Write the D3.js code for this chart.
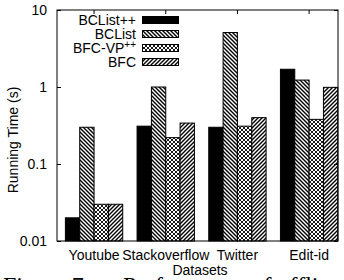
<!DOCTYPE html>
<html>
<head>
<meta charset="utf-8">
<script src="https://cdn.jsdelivr.net/npm/d3@7"></script>
<style>
  body { margin: 0; background: #fff; }
  text { font-family: "Liberation Sans", Arial, sans-serif; fill: #000; }
</style>
</head>
<body>
<div id="chart"></div>
<script>
// данные
const datasets = ['Youtube', 'Stackoverflow', 'Twitter', 'Edit-id'];
const seriesNames = ['BCList++', 'BCList', 'BFC-VP++', 'BFC'];
const bclistPP = [0.02, 0.31, 0.30, 1.7];
const bclist = [0.30, 1.0, 5.1, 1.23];
const bfcVP = [0.03, 0.22, 0.31, 0.38];
const bfc = [0.03, 0.34, 0.40, 0.99];
const yTicks = [0.01, 0.1, 1, 10];
const yTickLabels = ['0.01', '0.1', '1', '10'];

const W = 344, H = 280;
const m = { left: 57, right: 6, top: 10, bottom: 39 };
const FS = '14px';

const svg = d3.select('#chart').append('svg')
  .attr('width', W).attr('height', H);

const defs = svg.append('defs');

function hatch(id, d, sw) {
  const p = defs.append('pattern')
    .attr('id', id)
    .attr('patternUnits', 'userSpaceOnUse')
    .attr('width', 4).attr('height', 4);
  p.append('rect').attr('width', 4).attr('height', 4).attr('fill', '#fff');
  p.append('path').attr('d', d).attr('stroke', '#000')
    .attr('stroke-width', sw).attr('fill', 'none');
}
hatch('back', 'M-1,-1 L5,5 M-1,3 L1,5 M3,-1 L5,1', 1.4);
hatch('fwd', 'M-1,5 L5,-1 M-1,1 L1,-1 M3,5 L5,3', 1.4);
hatch('cross', 'M-1,-1 L5,5 M-1,3 L1,5 M3,-1 L5,1 M-1,5 L5,-1 M-1,1 L1,-1 M3,5 L5,3', 0.9);

const fills = ['#000', 'url(#back)', 'url(#cross)', 'url(#fwd)'];
const series = [bclistPP, bclist, bfcVP, bfc];

const x = d3.scaleLinear().domain([-0.51, 3.41]).range([m.left, W - m.right]);
const y = d3.scaleLog().domain([0.01, 10]).range([H - m.bottom, m.top]);
const barW = 0.2;

const plot = svg.append('g');

// столбцы
series.forEach((vals, j) => {
  plot.selectAll('.bar' + j)
    .data(vals)
    .enter().append('rect')
    .attr('x', (d, i) => x(i + (j - 2) * barW) + 0.5)
    .attr('y', d => y(d))
    .attr('width', x(barW) - x(0))
    .attr('height', d => y(0.01) - y(d))
    .attr('fill', fills[j])
    .attr('stroke', '#000')
    .attr('stroke-width', 1);
});

// рамка
plot.append('rect')
  .attr('x', x.range()[0]).attr('y', y.range()[1])
  .attr('width', x.range()[1] - x.range()[0])
  .attr('height', y.range()[0] - y.range()[1])
  .attr('fill', 'none').attr('stroke', '#000').attr('stroke-width', 1);

// оси
const yAxisL = d3.axisLeft(y).tickValues(yTicks)
  .tickFormat((d, i) => yTickLabels[i]).tickSizeInner(-4).tickSizeOuter(0).tickPadding(10);
const gy = svg.append('g').attr('transform', `translate(${x.range()[0]},0)`).call(yAxisL);
gy.select('.domain').remove();
gy.selectAll('text').style('font-size', FS);

const yAxisR = d3.axisRight(y).tickValues(yTicks).tickFormat('').tickSizeInner(-4).tickSizeOuter(0);
const gyr = svg.append('g').attr('transform', `translate(${x.range()[1]},0)`).call(yAxisR);
gyr.select('.domain').remove();

const xAxisB = d3.axisBottom(x).tickValues(d3.range(datasets.length))
  .tickFormat(i => datasets[i]).tickSizeInner(-4).tickSizeOuter(0).tickPadding(9);
const gx = svg.append('g').attr('transform', `translate(0,${y.range()[0]})`).call(xAxisB);
gx.select('.domain').remove();
gx.selectAll('text').style('font-size', FS);

const xAxisT = d3.axisTop(x).tickValues(d3.range(datasets.length))
  .tickFormat('').tickSizeInner(-4).tickSizeOuter(0);
const gxt = svg.append('g').attr('transform', `translate(0,${y.range()[1]})`).call(xAxisT);
gxt.select('.domain').remove();

svg.selectAll('.tick line').attr('stroke', '#000');

// подписи осей
svg.append('text')
  .attr('transform', 'translate(18,140) rotate(-90)')
  .attr('text-anchor', 'middle')
  .style('font-size', FS)
  .text('Running Time (s)');

svg.append('text')
  .attr('x', 200)
  .attr('y', 275)
  .attr('text-anchor', 'middle')
  .style('font-size', FS)
  .text('Datasets');

// легенда
const legend = svg.append('g');
seriesNames.forEach((name, j) => {
  const cy = 20 + j * 14;
  const t = legend.append('text')
    .attr('x', 136).attr('y', cy + 5)
    .attr('text-anchor', 'end')
    .style('font-size', FS);
  if (name === 'BFC-VP++') {
    t.text('BFC-VP');
    t.append('tspan').attr('dy', -5).style('font-size', '10px').text('++');
  } else {
    t.text(name);
  }
  legend.append('rect')
    .attr('x', 142.5).attr('y', cy - 3.5)
    .attr('width', 36).attr('height', 7)
    .attr('fill', fills[j]).attr('stroke', '#000').attr('stroke-width', 1);
});

// подпись рисунка (обрезана снизу)
svg.append('text')
  .attr('x', 3).attr('y', 293)
  .style('font-family', '"Liberation Serif", serif')
  .style('font-size', '24px')
  .text('Figure 7:');
svg.append('text')
  .attr('x', 123).attr('y', 293)
  .style('font-family', '"Liberation Serif", serif')
  .style('font-size', '24px')
  .text('Performance of offline');
</script>
</body>
</html>
